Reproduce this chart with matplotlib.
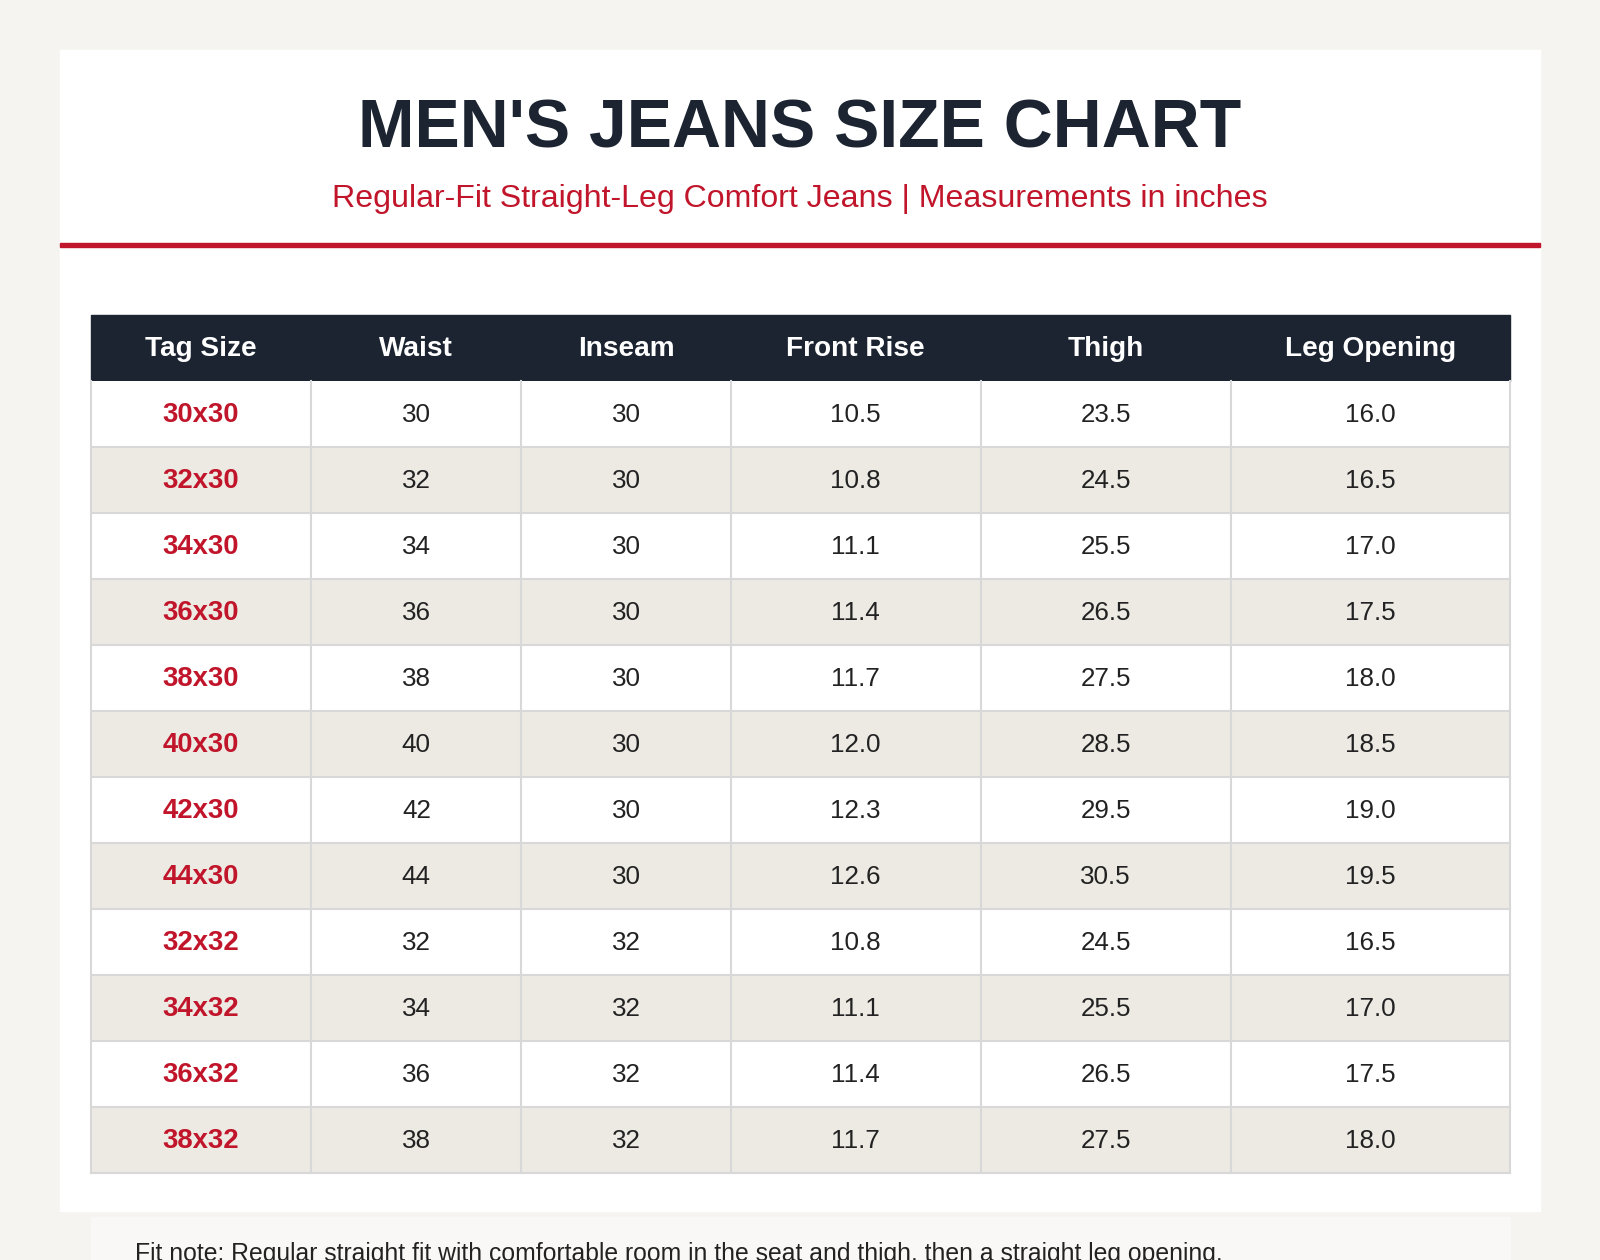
import matplotlib
matplotlib.use("Agg")
import matplotlib.pyplot as plt
from matplotlib.patches import Rectangle

title = "MEN'S JEANS SIZE CHART"
subtitle = "Regular-Fit Straight-Leg Comfort Jeans | Measurements in inches"
columns = ["Tag Size", "Waist", "Inseam", "Front Rise", "Thigh", "Leg Opening"]
tag_sizes = ["30x30", "32x30", "34x30", "36x30", "38x30", "40x30", "42x30", "44x30",
             "32x32", "34x32", "36x32", "38x32"]
waist = ["30", "32", "34", "36", "38", "40", "42", "44", "32", "34", "36", "38"]
inseam = ["30"] * 8 + ["32"] * 4
front_rise = ["10.5", "10.8", "11.1", "11.4", "11.7", "12.0", "12.3", "12.6", "10.8", "11.1", "11.4", "11.7"]
thigh = ["23.5", "24.5", "25.5", "26.5", "27.5", "28.5", "29.5", "30.5", "24.5", "25.5", "26.5", "27.5"]
leg_opening = ["16.0", "16.5", "17.0", "17.5", "18.0", "18.5", "19.0", "19.5", "16.5", "17.0", "17.5", "18.0"]
note = "Fit note: Regular straight fit with comfortable room in the seat and thigh, then a straight leg opening."

W, H = 1568, 1235
S = 1600 / W
def pt(px): return px * 0.72 * S

BG = "#f5f4f0"; DARK = "#1b2430"; RED = "#c0152a"; STRIPE = "#edeae4"; GRID = "#d8d8d8"
plt.rcParams['font.family'] = ['Liberation Sans', 'DejaVu Sans']

fig = plt.figure(figsize=(16, 12.6), dpi=100)
fig.patch.set_facecolor(BG)
ax = fig.add_axes([0, 0, 1, 1])
ax.set_xlim(0, W); ax.set_ylim(H, 0); ax.axis("off")

ax.add_patch(Rectangle((59, 49), 1450, 1138, color="white", zorder=0))
ax.text(784, 127, title, ha="center", va="center", fontsize=pt(66.5), fontweight="bold", color=DARK)
ax.text(784, 195, subtitle, ha="center", va="center", fontsize=pt(31.5), color=RED)
ax.add_patch(Rectangle((59, 238), 1450, 4.5, color=RED, zorder=1))

xs = [89, 305, 511, 716, 961, 1206, 1480]
top, hh = 309, 64
ax.add_patch(Rectangle((xs[0], top), xs[-1] - xs[0], hh, color=DARK, zorder=1))
for i, c in enumerate(columns):
    ax.text((xs[i] + xs[i + 1]) / 2, top + hh / 2 + 1, c, ha="center", va="center",
            fontsize=pt(27.5), fontweight="bold", color="white", zorder=3)

cols = [tag_sizes, waist, inseam, front_rise, thigh, leg_opening]
y0 = top + hh
rh = (1150 - y0) / len(tag_sizes)
for r in range(len(tag_sizes)):
    y = y0 + r * rh
    ax.add_patch(Rectangle((xs[0], y), xs[-1] - xs[0], rh,
                           facecolor=STRIPE if r % 2 else "white", edgecolor="none", zorder=1))
    ax.plot([xs[0], xs[-1]], [y + rh, y + rh], color=GRID, lw=1.5, zorder=2)
    for i, col in enumerate(cols):
        ax.text((xs[i] + xs[i + 1]) / 2, y + rh / 2 + 1, col[r], ha="center", va="center",
                fontsize=pt(27) if i == 0 else pt(25.5), fontweight="bold" if i == 0 else "normal",
                color=RED if i == 0 else "#222222", zorder=3)
for x in xs:
    ax.plot([x, x], [y0, 1150], color=GRID, lw=1.5, zorder=2)

ax.add_patch(Rectangle((89, 1193), 1391, 100, color="#f9f8f6", zorder=1))
ax.text(132, 1229, note, ha="left", va="center", fontsize=pt(24.3), color="#222222", zorder=3)

fig.savefig("out.png", dpi=100, facecolor=BG)
